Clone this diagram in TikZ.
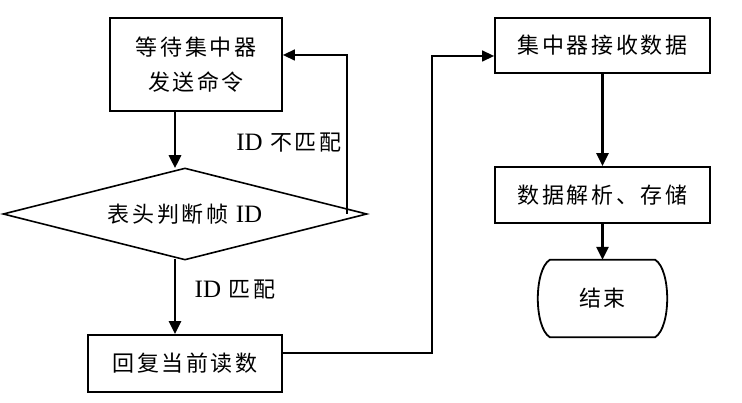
\documentclass[tikz,border=0pt]{standalone}
\usepackage{fontspec}
\usetikzlibrary{shapes.geometric,arrows.meta,calc}
\newfontfamily\cjk[LetterSpace=12]{Noto Sans CJK SC}
\newfontfamily\lat{Liberation Serif}
\newcommand\myid{{\lat\fontsize{25pt}{25pt}\selectfont ID}}
\begin{document}
\begin{tikzpicture}[x=1pt,y=-1pt,
  every node/.style={font=\cjk\fontsize{22pt}{35pt}\selectfont, align=center, inner sep=0pt},
  boxnode/.style={draw, line width=1.8pt, rectangle},
  decnode/.style={draw, line width=1.6pt, diamond, aspect=4, minimum width=364pt, minimum height=92pt},
  thickarr/.style={line width=2.8pt, -{Triangle[width=12pt,length=13pt]}},
  thinarr/.style={line width=1.4pt, -{Triangle[width=11pt,length=12pt]}},
  lbl/.style={font=\cjk\fontsize{22pt}{25pt}\selectfont}
]
\useasboundingbox (0,0) rectangle (742,403);
\fill[white] (0,0) rectangle (742,403);

\node[boxnode, minimum width=172pt, minimum height=93pt] (box1) at (196,64.5) {等待集中器\\发送命令};
\node[decnode] (d) at (185,214) {表头判断帧 \myid};
\node[boxnode, minimum width=194pt, minimum height=57pt] (box3) at (185,363.5) {回复当前读数};
\node[boxnode, minimum width=215pt, minimum height=55pt] (box4) at (602.5,45.5) {集中器接收数据};
\node[boxnode, minimum width=215pt, minimum height=56pt] (box5) at (602.5,195) {数据解析、存储};
\node[minimum width=129pt, minimum height=77pt] (end) at (602.5,298.5) {结束};
\draw[line width=1.8pt]
  ([xshift=12pt]end.north west) -- ([xshift=-12pt]end.north east)
  .. controls ([xshift=4pt,yshift=-10pt]end.north east) and ([xshift=4pt,yshift=10pt]end.south east) .. ([xshift=-12pt]end.south east)
  -- ([xshift=12pt]end.south west)
  .. controls ([xshift=-4pt,yshift=10pt]end.south west) and ([xshift=-4pt,yshift=-10pt]end.north west) .. ([xshift=12pt]end.north west) -- cycle;

\coordinate (xline) at (175,0);
\coordinate (fbtop) at (347,55);
\coordinate (c2) at (432,353);
\coordinate (c3) at (432,56);

\draw[thickarr] (box1.south -| xline) -- ([yshift=-1pt]d.north -| xline);
\draw[thickarr] ([yshift=2pt]d.south -| xline) -- (box3.north -| xline);
\draw[thinarr] (d.east -| fbtop) -- (fbtop) -- (box1.east |- fbtop);
\draw[thinarr] (box3.east |- c2) -- (c2) -- (c3) -- (box4.west |- c3);
\draw[thickarr] (box4.south) -- (box5.north);
\draw[thickarr] (box5.south) -- (end.north);

\node[lbl] (l1) at (289,143) {\myid{} 不匹配};
\node[lbl] (l2) at (235,290) {\myid{} 匹配};
\end{tikzpicture}
\end{document}
